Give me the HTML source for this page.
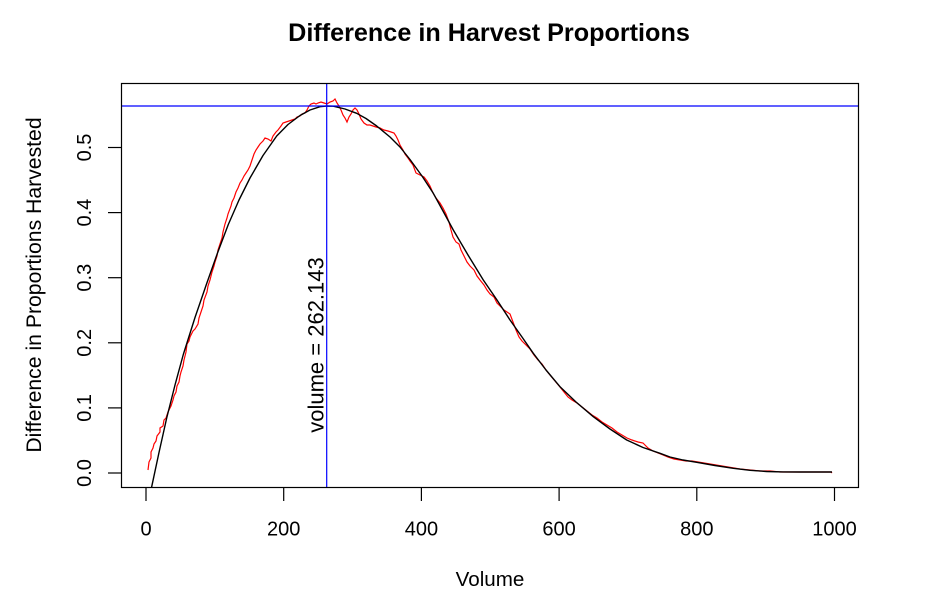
<!DOCTYPE html>
<html>
<head>
<meta charset="utf-8">
<style>
  html, body { margin: 0; padding: 0; background: #ffffff; }
  svg { display: block; }
  text { font-family: "Liberation Sans", Arial, sans-serif; fill: #000; }
</style>
</head>
<body>
<svg width="943" height="609" viewBox="0 0 943 609" xmlns="http://www.w3.org/2000/svg">
  <rect x="0" y="0" width="943" height="609" fill="#ffffff"/>
  <defs>
    <clipPath id="plotclip">
      <rect x="121" y="83" width="738" height="405"/>
    </clipPath>
  </defs>

  <!-- Title -->
  <text x="489" y="41" text-anchor="middle" font-size="25.2" font-weight="bold">Difference in Harvest Proportions</text>

  <g clip-path="url(#plotclip)">
    <!-- red empirical line -->
    <polyline fill="none" stroke="#ff0000" stroke-width="1.2" stroke-linejoin="miter" points="
148,470 149,462 151,458 151,452 153,448 154,444 156,441 157,436 160,432 160,428 163,426 164,420 166,418 168,412 169,410 171,406 173,400 174,396 176,392 177,386 179,382 180,376 181,372 183,366 184,360 186,352 187,344 189,341 190,337 193,331 195,329 198,324 199,318 201,312 203,306 204,300 207,292 208,286 210,280 212,272 214,266 215,262 217,256 218,250 220,244 222,238 223,232 225,224 227,218 228,214 231,206 232,202 234,198 236,192 238,188 240,183 242,180 244,176 246,173 248,170 250,166 252,160 254,154 256,150 258,147 260,144 263,141 265,138 268,139 271,141 273,136 276,132 278,130 281,126 283,123 286,122 289,121 292,120 295,119 297,117 300,116 302,114 305,113 307,110 309,106 311,104 314,103 316,104 318,103 321,102 324,103 327,104 330,102 333,101 335,99 337,103 339,106 341,110 343,115 345,118 347,122 349,117 351,114 353,110 355,108 357,110 359,114 361,119 364,123 367,125 370,125 373,126 376,127 380,128 384,130 388,131 391,132 394,133 396,136 398,140 400,145 403,150 405,154 408,158 410,161 413,165 416,173 420,175 424,177 427,181 430,186 433,193 436,198 440,203 443,208 446,214 449,222 451,230 453,237 456,242 459,244 461,250 464,256 467,262 470,266 474,270 477,276 480,280 484,285 487,290 490,294 494,297 497,303 500,306 504,310 507,312 510,314 513,322 516,330 519,337 522,341 526,345 530,349 534,355 538,360 542,364 546,370 550,375 555,381 560,387 564,392 568,397 572,400 577,403 582,407 587,411 592,415 597,418 602,422 607,425 612,428 617,432 622,435 627,438 632,440 638,442 643,443 648,448 653,451 658,453 663,455 668,457 674,459 680,460 686,461 692,461 698,462 704,463 710,464 716,465 722,466 728,467 734,468 740,469 750,470 760,471 770,471 780,472 800,472 820,472 831,472 832,473"/>

    <!-- black fitted curve -->
    <polyline fill="none" stroke="#000000" stroke-width="1.4" stroke-linejoin="round" points="
146,513 151.7,486.7 159,452.5 166.7,418 175,385 183.3,354.5 195,317.5 206.7,283.5 217.5,253 228.3,224.5 239,200 250,178 263,155.5 276.7,136 288,124.5 300,115.5 310,110 320,106.7 326.7,106 333.3,106.2 345,109 356.7,113.3 366,118.5 376.7,126 390,137 400,147 410,159.5 422,176 433.3,193.3 443,211 453.3,230 468,255 483.3,280 497,300 510,320 522,337 533.3,353.3 546,370 560,386.7 576,402 593.3,416.7 610,429 626.7,440 643,447.5 660,453.3 670,457 683,460 696.7,462.3 715,465.5 733.3,468.3 750,470.3 766.7,471.5 783,471.9 800,472 832,472"/>

    <!-- blue reference lines -->
    <line x1="121" y1="106" x2="859" y2="106" stroke="#0000ff" stroke-width="1.2"/>
    <line x1="326.7" y1="83" x2="326.7" y2="488" stroke="#0000ff" stroke-width="1.2"/>
  </g>

  <!-- annotation -->
  <text transform="translate(323.5,345) rotate(-90)" text-anchor="middle" font-size="22">volume = 262.143</text>

  <!-- plot box -->
  <rect x="121.5" y="83.5" width="737" height="404" fill="none" stroke="#000" stroke-width="1.2"/>

  <!-- x axis ticks -->
  <g stroke="#000" stroke-width="1.2">
    <line x1="146" y1="488" x2="146" y2="501"/>
    <line x1="283.7" y1="488" x2="283.7" y2="501"/>
    <line x1="421.4" y1="488" x2="421.4" y2="501"/>
    <line x1="559.1" y1="488" x2="559.1" y2="501"/>
    <line x1="696.8" y1="488" x2="696.8" y2="501"/>
    <line x1="834.5" y1="488" x2="834.5" y2="501"/>
  </g>
  <g font-size="20" text-anchor="middle">
    <text x="146" y="535.5">0</text>
    <text x="283.7" y="535.5">200</text>
    <text x="421.4" y="535.5">400</text>
    <text x="559.1" y="535.5">600</text>
    <text x="696.8" y="535.5">800</text>
    <text x="834.5" y="535.5">1000</text>
  </g>

  <!-- y axis ticks -->
  <g stroke="#000" stroke-width="1.2">
    <line x1="108" y1="473" x2="121" y2="473"/>
    <line x1="108" y1="407.9" x2="121" y2="407.9"/>
    <line x1="108" y1="342.8" x2="121" y2="342.8"/>
    <line x1="108" y1="277.7" x2="121" y2="277.7"/>
    <line x1="108" y1="212.6" x2="121" y2="212.6"/>
    <line x1="108" y1="147.5" x2="121" y2="147.5"/>
  </g>
  <g font-size="20" text-anchor="middle">
    <text transform="translate(91,473) rotate(-90)">0.0</text>
    <text transform="translate(91,407.9) rotate(-90)">0.1</text>
    <text transform="translate(91,342.8) rotate(-90)">0.2</text>
    <text transform="translate(91,277.7) rotate(-90)">0.3</text>
    <text transform="translate(91,212.6) rotate(-90)">0.4</text>
    <text transform="translate(91,147.5) rotate(-90)">0.5</text>
  </g>

  <!-- axis labels -->
  <text x="490" y="586" text-anchor="middle" font-size="20.6">Volume</text>
  <text transform="translate(41,285) rotate(-90)" text-anchor="middle" font-size="21.2">Difference in Proportions Harvested</text>
</svg>
</body>
</html>
